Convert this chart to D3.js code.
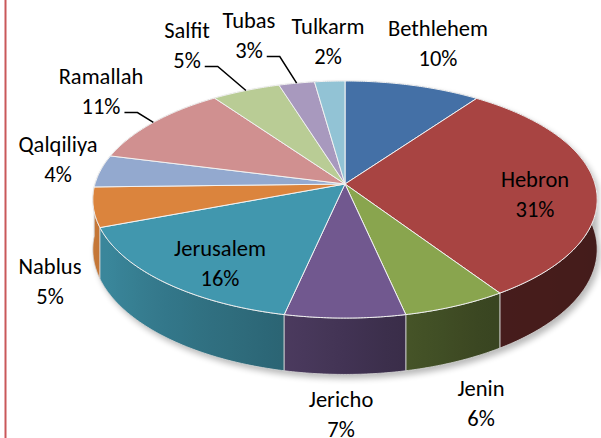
<!DOCTYPE html>
<html>
<head>
<meta charset="utf-8">
<script src="https://cdn.jsdelivr.net/npm/d3@7"></script>
<style>
  body { margin: 0; background: #fff; }
  svg { display: block; }
  .lbl { font-family: Carlito, Lato, "Liberation Sans", sans-serif; font-size: 22.5px; fill: #000; }
</style>
</head>
<body>
<div class="pie"></div>
<script>
let FRAME_WIDTH = 601;
let FRAME_HEIGHT = 438;

// data
const GOVERNORATES = ["Bethlehem", "Hebron", "Jenin", "Jericho", "Jerusalem", "Nablus",
                      "Qalqiliya", "Ramallah", "Salfit", "Tubas", "Tulkarm"];
const SHARES = [9.9, 30.8, 5.9, 6.8, 15.8, 5.4, 4.4, 11.2, 5.0, 2.6, 2.2];
const COLORS = ["#4470a6", "#a84442", "#89a54e", "#71588f", "#4197ae", "#db843d",
                "#93a9cf", "#d09090", "#b9cc95", "#a899be", "#92c3d5"];

// label placement (x centre, baseline of first line)
const LABEL_POS = {
  "Bethlehem": [438, 36], "Hebron": [535, 187], "Jenin": [481, 396], "Jericho": [341, 407],
  "Jerusalem": [220, 256], "Nablus": [50, 274], "Qalqiliya": [58, 152], "Ramallah": [101, 84],
  "Salfit": [187, 38], "Tubas": [249, 28], "Tulkarm": [328, 34]
};
const LEADERS = ["Ramallah", "Salfit", "Tubas"];
const LINE_GAP = 30;

// pie geometry (perspective ellipse)
const CX = 345, CY = 184, RX = 250, RY = 116.5, PERSP = 0.131, DEPTH = 49;

function proj(a, k, d) {
    k = k || 1; d = d || 0;
    let u = k * Math.sin(a), v = -k * Math.cos(a);
    let s = 1 / (1 - PERSP * v);
    return [CX + RX * u * s, CY + RY * v * s + d * s];
}

function rim(a0, a1, d) {
    let n = Math.max(2, Math.ceil((a1 - a0) / 0.01));
    return d3.range(n + 1).map(i => proj(a0 + (a1 - a0) * i / n, 1, d));
}

let FRAME = d3.select(".pie")
              .append("svg")
              .attr("width", FRAME_WIDTH)
              .attr("height", FRAME_HEIGHT);

// left border line
FRAME.append("line")
     .attr("x1", 5.5).attr("x2", 5.5)
     .attr("y1", 0).attr("y2", FRAME_HEIGHT)
     .attr("stroke", "#c9585a")
     .attr("stroke-width", 2);

const arcs = d3.pie().sort(null).value(d => d)(SHARES);
const line = d3.line();
const defs = FRAME.append("defs");

// shadow
let blur = defs.append("filter").attr("id", "shadow")
               .attr("x", "-10%").attr("y", "-10%").attr("width", "120%").attr("height", "130%");
blur.append("feGaussianBlur").attr("stdDeviation", 3);

FRAME.append("path")
     .attr("d", line(rim(Math.PI / 2, Math.PI * 1.5, DEPTH).concat(rim(Math.PI * 1.5, Math.PI * 2.5, 0))) + "Z")
     .attr("transform", "translate(3,4)")
     .attr("fill", "#000")
     .attr("opacity", 0.28)
     .attr("filter", "url(#shadow)");

// wall shading by facing angle (degrees clockwise from top)
const SHADE = d3.scaleLinear()
                .domain([90, 150, 170, 195, 240, 270])
                .range([0.40, 0.42, 0.52, 0.68, 0.88, 0.92])
                .clamp(true);

const X_LEFT = proj(Math.PI * 1.46)[0] - 5, X_RIGHT = proj(Math.PI * 0.54)[0] + 5;

arcs.forEach((d, i) => {
    let g = defs.append("linearGradient")
                .attr("id", "wall" + i)
                .attr("gradientUnits", "userSpaceOnUse")
                .attr("x1", X_LEFT).attr("x2", X_RIGHT)
                .attr("y1", 0).attr("y2", 0);
    let stops = d3.range(92, 270, 4).map(deg => {
        let x = proj(deg * Math.PI / 180)[0];
        let c = d3.rgb(COLORS[i]);
        let f = SHADE(deg);
        return {off: (x - X_LEFT) / (X_RIGHT - X_LEFT), col: d3.rgb(c.r * f, c.g * f, c.b * f)};
    }).sort((a, b) => a.off - b.off);
    stops.forEach(s => g.append("stop")
                        .attr("offset", Math.max(0, Math.min(1, s.off)))
                        .attr("stop-color", s.col));
});

// outer walls, back ones first
let wallOrder = arcs.map((d, i) => i)
                    .sort((a, b) => Math.abs(Math.PI - (arcs[b].startAngle + arcs[b].endAngle) / 2)
                                  - Math.abs(Math.PI - (arcs[a].startAngle + arcs[a].endAngle) / 2));

FRAME.append("g").selectAll("path")
     .data(wallOrder)
     .enter()
     .append("path")
       .attr("d", i => line(rim(arcs[i].startAngle, arcs[i].endAngle, 0)
                       .concat(rim(arcs[i].startAngle, arcs[i].endAngle, DEPTH).reverse())) + "Z")
       .attr("fill", i => "url(#wall" + i + ")")
       .attr("stroke", "#d8d8d8")
       .attr("stroke-width", 0.8)
       .attr("stroke-linejoin", "round");

// top faces
FRAME.append("g").selectAll("path")
     .data(arcs)
     .enter()
     .append("path")
       .attr("d", d => line([[CX, CY]].concat(rim(d.startAngle, d.endAngle, 0))) + "Z")
       .attr("fill", (d, i) => COLORS[i])
       .attr("stroke", "#f2f2f2")
       .attr("stroke-width", 1)
       .attr("stroke-linejoin", "round");

// labels
const total = d3.sum(SHARES);
let labels = FRAME.append("g").selectAll("text")
     .data(arcs)
     .enter()
     .append("text")
       .attr("class", "lbl")
       .attr("text-anchor", "middle")
       .attr("x", (d, i) => LABEL_POS[GOVERNORATES[i]][0])
       .attr("y", (d, i) => LABEL_POS[GOVERNORATES[i]][1]);

labels.append("tspan")
      .attr("x", (d, i) => LABEL_POS[GOVERNORATES[i]][0])
      .text((d, i) => GOVERNORATES[i]);
labels.append("tspan")
      .attr("class", "pct")
      .attr("x", (d, i) => LABEL_POS[GOVERNORATES[i]][0])
      .attr("dy", LINE_GAP)
      .text(d => Math.round(d.value / total * 100) + "%");

// leader lines
labels.each(function(d, i) {
    let name = GOVERNORATES[i];
    if (LEADERS.indexOf(name) < 0) return;
    let pct = d3.select(this).select(".pct").node();
    let w = pct.getComputedTextLength();
    let x0 = LABEL_POS[name][0] + w / 2 + 4;
    let y0 = LABEL_POS[name][1] + LINE_GAP - 1.5;
    let end = proj((d.startAngle + d.endAngle) / 2);
    FRAME.append("path")
         .attr("d", line([[x0, y0], [x0 + 13, y0], end]))
         .attr("fill", "none")
         .attr("stroke", "#000")
         .attr("stroke-width", 1.5);
});
</script>
</body>
</html>
